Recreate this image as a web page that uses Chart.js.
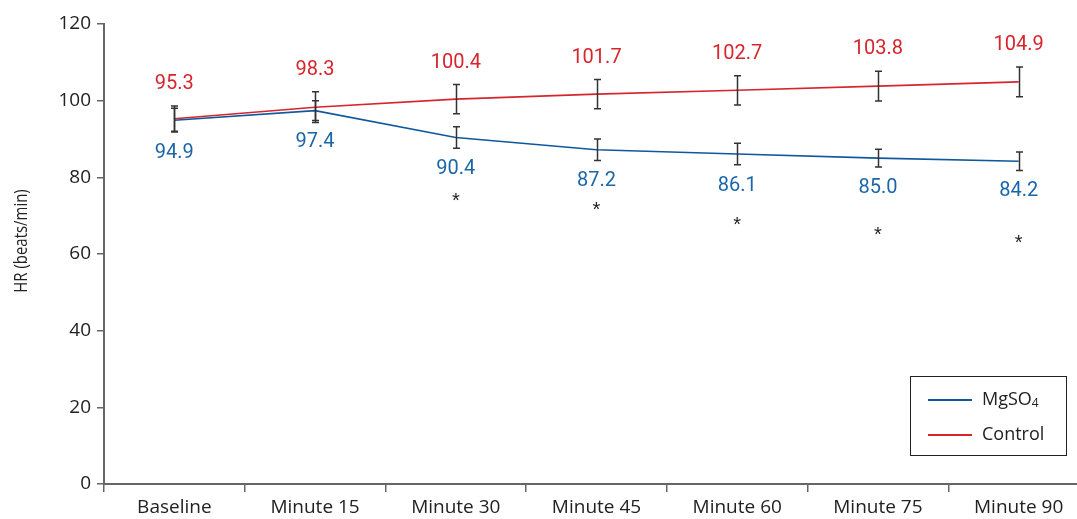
<!DOCTYPE html>
<html>
<head>
<meta charset="utf-8">
<script src="https://cdn.jsdelivr.net/npm/chart.js@4"></script>
<style>
  html, body { margin: 0; padding: 0; overflow: hidden; background: #fff; }
  #wrap { width: 1089px; height: 519px; position: relative; }
</style>
</head>
<body>
<div id="wrap"><canvas id="hr-chart"></canvas></div>
<script>
// data
const categories = ['Baseline', 'Minute 15', 'Minute 30', 'Minute 45', 'Minute 60', 'Minute 75', 'Minute 90'];
const mgso4 = [94.9, 97.4, 90.4, 87.2, 86.1, 85.0, 84.2];
const mgso4Err = [3.1, 2.6, 2.8, 2.8, 2.8, 2.3, 2.4];
const control = [95.3, 98.3, 100.4, 101.7, 102.7, 103.8, 104.9];
const controlErr = [3.3, 4.0, 3.8, 3.8, 3.8, 3.9, 3.9];
// where the significance asterisks sit (y value), null = none
const starAt = [null, null, 74.6, 72.3, 68.4, 65.7, 63.6];
const yTicks = [0, 20, 40, 60, 80, 100, 120];

const RED = '#d7252d';
const BLUE = '#10589e';
const BLUE_TXT = '#1b66a8';

const overlay = {
  id: 'overlay',
  afterDatasetsDraw(chart) {
    const { ctx, scales: { x, y } } = chart;
    ctx.save();

    // error bars
    ctx.strokeStyle = '#333';
    ctx.lineWidth = 1.5;
    const bars = [[control, controlErr], [mgso4, mgso4Err]];
    bars.forEach(([vals, errs]) => {
      vals.forEach((v, i) => {
        const px = Math.round(x.getPixelForValue(i)) + 0.5;
        const top = y.getPixelForValue(v + errs[i]);
        const bot = y.getPixelForValue(v - errs[i]);
        ctx.beginPath();
        ctx.moveTo(px, top); ctx.lineTo(px, bot);
        ctx.moveTo(px - 3.5, top); ctx.lineTo(px + 3.5, top);
        ctx.moveTo(px - 3.5, bot); ctx.lineTo(px + 3.5, bot);
        ctx.stroke();
      });
    });

    // value labels
    ctx.font = '20px Roboto, "Noto Sans", sans-serif';
    ctx.textAlign = 'center';
    ctx.textBaseline = 'middle';
    control.forEach((v, i) => {
      ctx.fillStyle = RED;
      ctx.fillText(v.toFixed(1), x.getPixelForValue(i), y.getPixelForValue(v + controlErr[i]) - 22);
    });
    mgso4.forEach((v, i) => {
      ctx.fillStyle = BLUE_TXT;
      ctx.fillText(v.toFixed(1), x.getPixelForValue(i), y.getPixelForValue(v - mgso4Err[i]) + 21);
    });

    // asterisks
    ctx.fillStyle = '#222';
    ctx.font = '20px "Liberation Sans", sans-serif';
    ctx.textBaseline = 'alphabetic';
    starAt.forEach((s, i) => {
      if (s == null) return;
      ctx.fillText('*', x.getPixelForValue(i), y.getPixelForValue(s) + 9);
    });

    // y axis title, slightly condensed
    ctx.save();
    ctx.translate(22, 241);
    ctx.rotate(-Math.PI / 2);
    ctx.scale(0.83, 1);
    ctx.fillStyle = '#222';
    ctx.font = '18px "Open Sans", sans-serif';
    ctx.textBaseline = 'middle';
    ctx.fillText('HR (beats/min)', 0, 0);
    ctx.restore();

    // legend box
    ctx.strokeStyle = '#222';
    ctx.lineWidth = 1;
    ctx.strokeRect(910.5, 376.5, 156, 79);
    const items = [['MgSO', '4', BLUE, 400], ['Control', '', RED, 435]];
    ctx.textAlign = 'left';
    items.forEach(([txt, sub, col, ly]) => {
      ctx.strokeStyle = col;
      ctx.lineWidth = 2;
      ctx.beginPath();
      ctx.moveTo(928, ly); ctx.lineTo(972, ly);
      ctx.stroke();
      ctx.fillStyle = '#222';
      ctx.font = '18px "Open Sans", sans-serif';
      ctx.textBaseline = 'middle';
      ctx.fillText(txt, 982, ly);
      if (sub) {
        const w = ctx.measureText(txt).width;
        ctx.font = '12px "Open Sans", sans-serif';
        ctx.fillText(sub, 982 + w, ly + 4);
      }
    });

    ctx.restore();
  }
};

new Chart(document.getElementById('hr-chart'), {
  type: 'line',
  data: {
    labels: categories,
    datasets: [
      { label: 'MgSO4', data: mgso4, borderColor: BLUE, borderWidth: 1.6, pointRadius: 0, tension: 0 },
      { label: 'Control', data: control, borderColor: RED, borderWidth: 1.6, pointRadius: 0, tension: 0 }
    ]
  },
  options: {
    responsive: true,
    maintainAspectRatio: false,
    animation: false,
    layout: { padding: { top: 24, right: 0, left: 0, bottom: 0 } },
    plugins: { legend: { display: false }, tooltip: { enabled: false } },
    scales: {
      x: {
        offset: true,
        grid: { offset: true, drawOnChartArea: false, tickLength: 8, color: '#666', lineWidth: 1.5 },
        border: { color: '#666', width: 2 },
        ticks: { color: '#222', font: { family: '"Open Sans", sans-serif', size: 19 }, padding: 4, maxRotation: 0, autoSkip: false },
        afterFit: s => { s.height = 35; }
      },
      y: {
        min: 0,
        max: 120,
        afterBuildTicks: s => { s.ticks = yTicks.map(v => ({ value: v })); },
        grid: { drawOnChartArea: false, tickLength: 7, color: '#666', lineWidth: 1.5 },
        border: { color: '#666', width: 2 },
        ticks: { color: '#222', font: { family: '"Open Sans", sans-serif', size: 19 }, padding: 6 },
        afterFit: s => { s.width = 104; }
      }
    }
  },
  plugins: [overlay]
});
</script>
</body>
</html>
